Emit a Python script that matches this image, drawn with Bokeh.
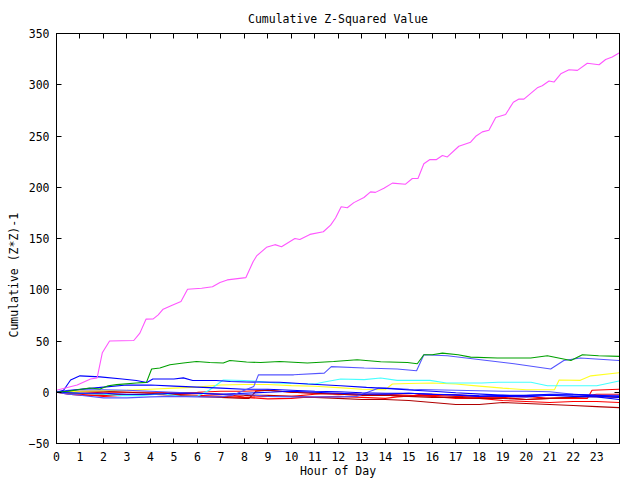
import math
from bokeh.plotting import figure
from bokeh.models import Range1d, LinearAxis, Title, FixedTicker
from bokeh.embed import file_html
from bokeh.resources import INLINE

# ---------------- data ----------------
x_ticks = list(range(0, 24))
y_ticks = list(range(-50, 351, 50))

magenta_h = [0, 0.88, 1.45, 1.73, 1.95, 2.26, 3.29, 3.55, 3.81, 4.12, 4.33, 4.54, 4.9, 5.3, 5.58,
             6.18, 6.64, 6.96, 7.27, 8.06, 8.37, 8.52, 8.94, 9.3, 9.58, 10.15, 10.36, 10.79, 11.36,
             11.67, 11.88, 12.12, 12.38, 12.66, 13.09, 13.37, 13.58, 13.94, 14.3, 14.86, 15.15,
             15.39, 15.64, 15.9, 16.18, 16.43, 16.64, 17.13, 17.63, 17.85, 18.13, 18.41, 18.7,
             19.12, 19.45, 19.69, 19.9, 20.47, 20.68, 20.97, 21.18, 21.47, 21.82, 22.18, 22.6,
             23.1, 23.38, 23.66, 23.95]
magenta_v = [2, 7, 13, 14, 38.5, 50, 50.5, 57.7, 71.3, 71.6, 75.5, 81, 84.6, 88.5, 100.5,
             101.5, 103, 107, 109.6, 111.8, 127.4, 133, 141.4, 144, 142, 150, 149, 154, 156.6,
             163, 170, 181, 180, 185, 190, 195.5, 195, 199, 204, 203, 208.5,
             208.5, 223, 227, 227, 231, 229.6, 240, 244, 249.7, 254, 255.6, 268,
             271, 283, 286, 286, 297, 299, 303.6, 302.6, 310.7, 314.6, 314, 321,
             319.5, 324.6, 327, 331]

green_h = [0, 0.5, 1.4, 1.85, 2.2, 2.56, 3.4, 3.83, 4.05, 4.4, 4.83, 5.4, 5.96, 6.53, 7.1, 7.38,
           8.09, 8.69, 9.5, 10.68, 11.8, 12.8, 13.8, 14.94, 15.36, 15.64, 16.0, 16.43, 17.1,
           17.63, 18.77, 20.19, 20.9, 21.9, 22.39, 23.08, 23.95]
green_v = [0, 1, 4.2, 3.2, 6.4, 7.4, 9, 9.6, 22.7, 23.6, 26.9, 28.5, 30, 29, 28.5, 31,
           29.5, 29, 30, 28.5, 30, 31.7, 29.8, 29, 27.8, 36.6, 36.6, 38.2, 36.6,
           34.3, 33.4, 33.4, 35.6, 31, 36.6, 35.6, 35]

ltblue1_h = [0, 0.5, 1, 2, 3, 4, 5, 6, 7, 7.5, 8, 8.4, 8.6, 10.1, 11.4, 11.7, 13.1, 14.5, 15.33,
             15.64, 16.64, 18.06, 19.48, 21.04, 21.6, 22.3, 23.95]
ltblue1_v = [0, -2, -3, -5.5, -5.5, -4.5, -4, -4.5, -4.5, -3, 2, 5.7, 17, 17, 18.7, 25, 23.6, 22.7, 21,
             36.6, 35.6, 31.7, 27.8, 22.7, 31, 33.4, 31]

ltblue2_h = [0, 0.5, 1, 2, 3, 4, 5, 6, 7, 8, 9, 10, 11, 12, 12.8, 13.7, 14, 15, 16, 17, 18, 19,
             20, 21, 22, 23, 23.95]
ltblue2_v = [0, 2, 2.5, 2.5, 2, 1, 0, -1, -2, -2, -4, -4.5, -4.5, -4.5, -4, 4, 4, 3, 2.5, 2, 1.5, 1,
             1, 0.5, -2, -3, -3]

blueA_h = [0, 0.3, 0.6, 1, 1.85, 2.8, 3.4, 3.85, 4.1, 5, 5.4, 5.8, 6.8, 7.4, 8.1, 9.5, 10.7, 12.1,
           13.2, 14.2, 15.2, 16, 17, 18.5, 19.5, 21, 22.5, 23.95]
blueA_v = [0, 2, 12, 16, 15, 13, 11.5, 9.5, 13, 13, 14, 11.5, 11.5, 10.5, 10, 9.7, 8, 6.4,
           4.8, 3.5, 1.9, 1, -0.5, -2.3, -3.5, -2.5, -3, -5]

hours = [0, 1, 2, 3, 4, 5, 6, 7, 8, 9, 10, 11, 12, 13, 14, 15, 16, 17, 18, 19, 20, 21, 22, 23, 23.95]
blueB_v = [0, 3, 5, 7, 7, 6, 5, 4, 3, 3, 2, 1, 0.5, -0.5, -1, -1, -2, -2.5, -3.5, -4, -4.5, -3, -4,
           -4.5, -7]
blueC_v = [0, -1, -1, -2, -2, -1, -1, -2, -1, 0, 1, 0, -1, -2, -2, -1, -2, -3, -4, -3, -3, -2, -2,
           -3, -4]

cyan_h = [0, 1, 2, 2.7, 3.6, 4.5, 5.3, 6, 6.5, 7.1, 8, 8.4, 9.3, 10, 11, 11.4, 12.1, 13.1, 13.8,
          14.5, 15.9, 16.6, 18.1, 18.8, 20.2, 20.9, 23, 23.95]
cyan_v = [0, -1, -2, -3.3, -3.3, -1.5, -4, -4, 2, 12, 11.5, 11, 9, 8.5, 8, 10, 13, 12.3, 13.9,
          11.6, 11.6, 9, 9, 9.7, 9.7, 6.4, 6.4, 11]

yellow_h = [0, 1, 2, 3, 4, 5, 6, 7, 8, 9, 10, 11, 12, 13, 14, 14.3, 15, 16, 17, 18, 19, 20, 21,
            21.2, 21.4, 22.3, 22.75, 23.95]
yellow_v = [0, 1, 1.5, 2, 3, 4, 5, 7, 7.5, 7.5, 6.5, 5.8, 4.5, 3, 2.5, 8, 8.5, 9, 8, 6, 4, 2.5, 2.5,
            2.5, 12, 11.6, 16, 19]

red1_h = [0, 1, 2, 3, 4, 5, 6, 7, 8, 9, 10, 11, 12, 13, 14, 15, 15.5, 16, 17, 18, 19, 20, 21, 22,
          22.6, 22.8, 23.95]
red1_v = [0, -1, 0, 0, 0, -0.5, 0, 1, 1, 2, 0, -1, -2, -3, -3, -4, -2, -2, -2.5, -4, -5, -7, -6, -6,
          -6, 2, 3]
red2_h = [0, 0.5, 1, 2, 3, 4, 5, 6, 7, 7.5, 8, 9, 10, 10.5, 11, 12, 13, 14, 14.5, 15.5, 16, 17,
          18, 19, 20, 21, 22, 23, 23.95]
red2_v = [0, -2, -3, -3, -3, -2, -1, -1, -2, -3, -5, -6.5, -6, -5, -5, -4, -5, -6, -4.5, -3, -3, -4,
          -5, -4.5, -4, -6, -5, -2, -2]
red3_v = [0, -2, -4, -3, -2, -2, -3, -4, -5, -4, -4, -2, -1, -2, -2, -3, -4, -6, -6, -8, -9, -10,
          -9, -9, -10]

dkred1_h = [0, 1, 2, 3, 4, 5, 6, 7, 8, 8.2, 8.5, 9, 10, 11, 12, 13, 14, 15, 16, 17, 18, 19, 20,
            21, 22, 23, 23.95]
dkred1_v = [0, -1, -2, -2.5, -2, -3, -4, -5, -6, -6, 1, 2, 0, -1, -2, -3, -3, -4, -5, -5, -6, -6,
            -7, -6, -5, -4, -5]
dkred2_v = [0, 1, 1, 0, -1, -2, -1, -2, -3, -3, -4, -5, -6, -7, -7, -8, -10, -12, -12, -10, -11,
            -12, -13, -14, -15]

FONT = "DejaVu Sans Mono"
FS = "11.5px"

p = figure(width=640, height=480, x_range=Range1d(0, 23.97), y_range=Range1d(-50, 350),
           output_backend="svg", toolbar_location=None,
           min_border_left=56, min_border_right=21, min_border_top=33, min_border_bottom=36)
p.background_fill_color = "white"
p.border_fill_color = "white"
p.outline_line_color = "black"
p.outline_line_width = 1
p.xgrid.visible = False
p.ygrid.visible = False

p.title.text = "Cumulative Z-Squared Value"
p.title.align = "center"
p.title.text_font = FONT
p.title.text_font_size = FS
p.title.text_font_style = "normal"
p.title.text_color = "black"
p.title.standoff = 16

for ax, tk in ((p.xaxis, x_ticks), (p.yaxis, y_ticks)):
    ax.ticker = FixedTicker(ticks=tk)
    ax.major_tick_in = 5
    ax.major_tick_out = 0
    ax.minor_tick_line_color = None
    ax.axis_line_color = "black"
    ax.major_tick_line_color = "black"
    ax.major_label_text_font = FONT
    ax.major_label_text_font_size = FS
    ax.major_label_text_color = "black"
p.xaxis.major_label_standoff = 8
p.yaxis.major_label_standoff = 7
p.xaxis.axis_label = "Hour of Day"
p.xaxis.axis_label_text_font = FONT
p.xaxis.axis_label_text_font_size = FS
p.xaxis.axis_label_text_font_style = "normal"
p.xaxis.axis_label_text_color = "black"
p.xaxis.axis_label_standoff = 0

for loc, tk in (("right", y_ticks), ("above", x_ticks)):
    ax = LinearAxis(ticker=FixedTicker(ticks=tk), major_tick_in=5, major_tick_out=0,
                    minor_tick_line_color=None, major_label_text_font_size="0px",
                    major_label_standoff=0, axis_line_color="black",
                    major_label_overrides={t: "" for t in tk})
    p.add_layout(ax, loc)

ylab = Title(text="Cumulative (Z*Z)-1", align="left", offset=106, text_font=FONT,
             text_font_size=FS, text_font_style="normal", text_color="black", standoff=9)
p.add_layout(ylab, "left")

series = [
    (red1_h, red1_v, "#ff0000"),
    (red2_h, red2_v, "#ff0000"),
    (hours, red3_v, "#ff0000"),
    (dkred1_h, dkred1_v, "#b00000"),
    (hours, dkred2_v, "#b00000"),
    (yellow_h, yellow_v, "#ffff22"),
    (cyan_h, cyan_v, "#44ffff"),
    (ltblue2_h, ltblue2_v, "#5555ff"),
    (hours, blueC_v, "#0000ff"),
    (hours, blueB_v, "#0000ff"),
    (blueA_h, blueA_v, "#0000ff"),
    (ltblue1_h, ltblue1_v, "#5555ff"),
    (green_h, green_v, "#00a000"),
    (magenta_h, magenta_v, "#ff55ff"),
]
for xs, ys, c in series:
    p.line(xs, ys, line_color=c, line_width=1.1)

open("out.html", "w").write(file_html(p, INLINE))
